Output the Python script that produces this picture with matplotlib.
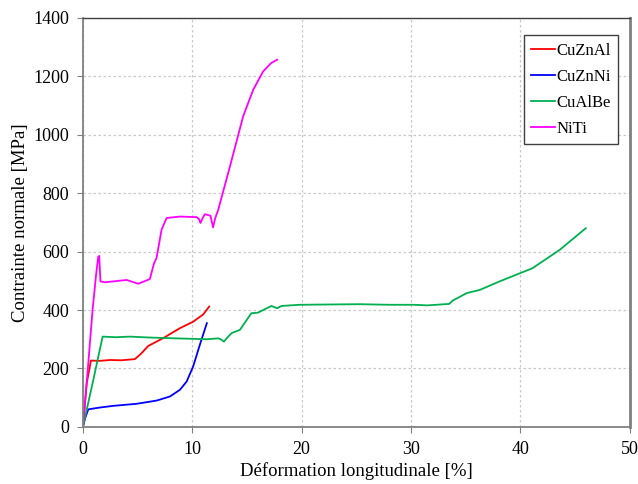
import matplotlib
matplotlib.use('Agg')
import matplotlib.pyplot as plt

# Courbes contrainte-déformation
cuznal_x = [0, 0.35, 0.73, 1.5, 2.5, 3.5, 4.75, 5.3, 5.97, 7.3, 8.87, 10.08, 11.0, 11.55]
cuznal_y = [0, 150, 227, 226, 229, 228, 232, 250, 277, 303, 338, 360, 385, 412]

cuznini_x = [0, 0.2, 0.49, 1.5, 2.77, 4.9, 6.73, 7.95, 8.87, 9.48, 10.08, 10.69, 11.33]
cuznini_y = [0, 30, 60, 66, 72, 79, 90, 104, 127, 155, 207, 281, 355]

cualbe_x = [0, 1.0, 1.8, 3.0, 4.3, 6.0, 7.65, 9.5, 11.3, 12.37, 12.6, 12.89, 13.28, 13.6,
            14.35, 15.4, 16.0, 17.24, 17.76, 18.15, 19.84, 22.5, 25.3, 28.0, 30.2,
            31.5, 33.5, 33.8, 35.1, 36.3, 38.1, 41.1, 43.6, 45.98]
cualbe_y = [0, 170, 309, 307, 309, 306, 304, 302, 300, 303, 300, 292, 309, 321,
            332, 389, 391, 414, 406, 414, 418, 419, 420, 418, 418,
            416, 421, 432, 458, 469, 498, 543, 606, 680]

niti_x = [0, 0.45, 0.88, 1.2, 1.4, 1.49, 1.6, 2.0, 2.77, 3.99, 5.05, 6.12, 6.5, 6.73,
          7.19, 7.65, 8.87, 10.39, 10.6, 10.75, 10.95, 11.15, 11.66, 11.8, 11.9,
          12.1, 12.37, 13.44, 14.65, 15.57, 16.48, 17.2, 17.76]
niti_y = [0, 200, 400, 520, 583, 585, 498, 495, 498, 503, 490, 506, 560, 578,
          675, 715, 720, 718, 712, 698, 715, 728, 723, 700, 683,
          715, 743, 891, 1063, 1154, 1217, 1245, 1257]

series = [
    ('CuZnAl', cuznal_x, cuznal_y, '#ff0000'),
    ('CuZnNi', cuznini_x, cuznini_y, '#0000ff'),
    ('CuAlBe', cualbe_x, cualbe_y, '#00b050'),
    ('NiTi', niti_x, niti_y, '#ff00ff'),
]

plt.rcParams['font.family'] = ['Liberation Serif', 'DejaVu Serif']
plt.rcParams['font.size'] = 12

fig = plt.figure(figsize=(6.38, 4.84), dpi=100)
ax = fig.add_axes([0.130, 0.118, 0.857, 0.845])

for name, xs, ys, color in series:
    ax.plot(xs, ys, '-', color=color, lw=1.3, label=name)

ax.set_xlim(0, 50)
ax.set_ylim(0, 1400)
ax.set_xticks(range(0, 51, 10))
ax.set_yticks(range(0, 1401, 200))
ax.grid(True, color='#c8c8c8', linestyle=(0, (2, 2)), lw=0.9)
ax.set_axisbelow(True)
ax.tick_params(direction='out', length=4, color='#808080', labelsize=13, pad=6)

for side in ('left', 'bottom'):
    ax.spines[side].set_color('#808080')
    ax.spines[side].set_linewidth(1.3)
ax.spines['top'].set_color('#404040')
ax.spines['top'].set_linewidth(1.0)
ax.spines['right'].set_color('#808080')
ax.spines['right'].set_linewidth(2.0)

ax.set_xlabel('Déformation longitudinale [%]', fontsize=13.5, labelpad=3)
ax.set_ylabel('Contrainte normale [MPa]', fontsize=13.5, labelpad=3)

leg = ax.legend(loc='upper right', bbox_to_anchor=(0.994, 0.978), fancybox=False,
                edgecolor='#404040', framealpha=1, handlelength=1.4,
                handletextpad=0.1, borderpad=0.45, labelspacing=0.6, fontsize=12)
leg.get_frame().set_linewidth(1.0)

fig.savefig('out.png', dpi=100)
